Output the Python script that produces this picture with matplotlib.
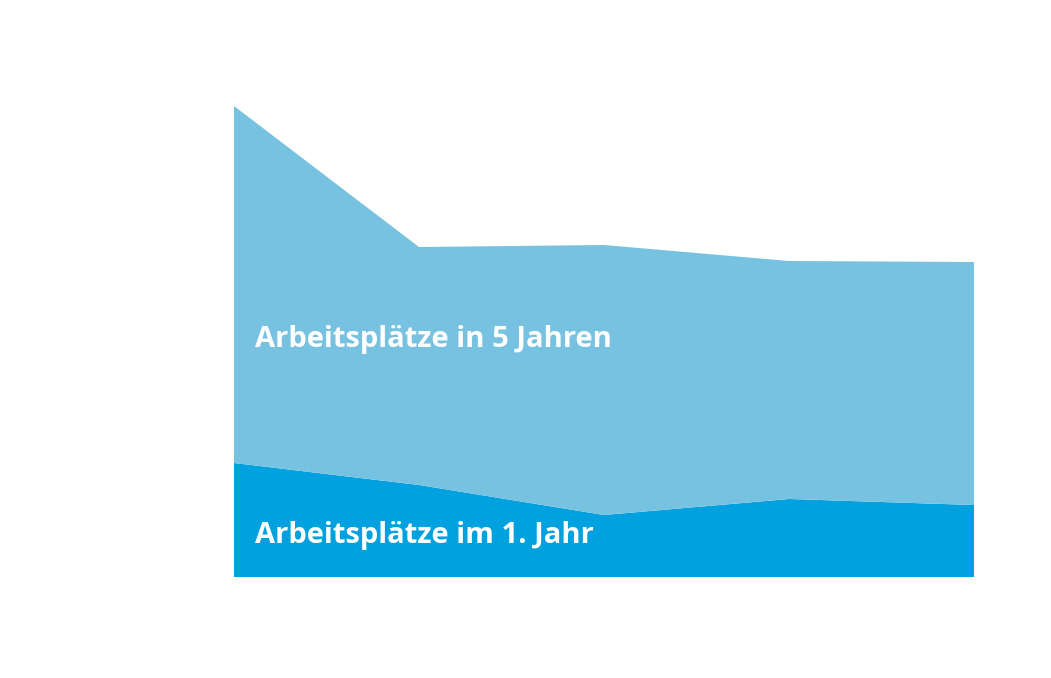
import numpy as np
import matplotlib.pyplot as plt

# ----------------- Daten -----------------
jahre = [0, 1, 2, 3, 4]
jobs_jahr1 = [114, 92, 62, 78, 72]            # Arbeitsplätze im 1. Jahr
jobs_jahr5_extra = [357, 238, 270, 238, 243]  # Zuwachs bis 5 Jahre (gestapelt)

farbe_dunkel = "#00A1DE"
farbe_hell = "#78C2E1"

# ----------------- Plot -----------------
fig = plt.figure(figsize=(10.51, 6.78), dpi=100)
W, H = 1051, 678
ax = fig.add_axes([234 / W, (H - 577) / H, (974 - 234) / W, 577 / H])

ax.stackplot(jahre, jobs_jahr1, jobs_jahr5_extra,
             colors=[farbe_dunkel, farbe_hell], linewidth=0)

ax.set_xlim(0, 4)
ax.set_ylim(0, 577)
ax.axis("off")

schrift = dict(color="white", fontsize=21, fontweight="bold",
               family=["Open Sans", "DejaVu Sans"], va="baseline", ha="left")
x_text = (255 - 234) / 740 * 4
ax.text(x_text, 577 - 347, "Arbeitsplätze in 5 Jahren", **schrift)
ax.text(x_text, 577 - 543, "Arbeitsplätze im 1. Jahr", **schrift)

fig.savefig("out.png", dpi=100)
